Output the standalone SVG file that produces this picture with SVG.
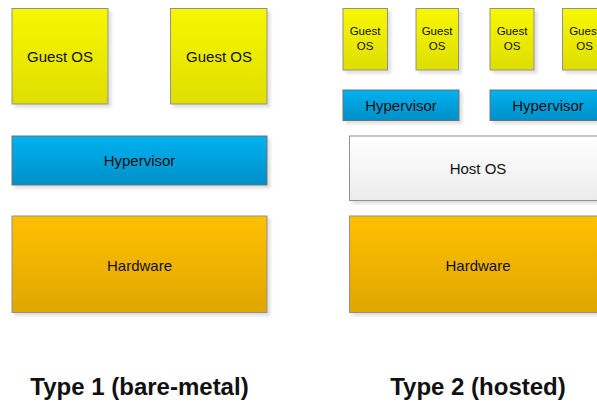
<svg xmlns="http://www.w3.org/2000/svg" width="597" height="403" viewBox="0 0 597 403">
  <defs>
    <linearGradient id="gYellow" x1="0" y1="0" x2="0" y2="1">
      <stop offset="0" stop-color="#f7f700"/>
      <stop offset="1" stop-color="#dede00"/>
    </linearGradient>
    <linearGradient id="gBlue" x1="0" y1="0" x2="0" y2="1">
      <stop offset="0" stop-color="#00b2f0"/>
      <stop offset="1" stop-color="#008fc7"/>
    </linearGradient>
    <linearGradient id="gOrange" x1="0" y1="0" x2="0" y2="1">
      <stop offset="0" stop-color="#ffc000"/>
      <stop offset="1" stop-color="#dea600"/>
    </linearGradient>
    <linearGradient id="gWhite" x1="0" y1="0" x2="0" y2="1">
      <stop offset="0" stop-color="#ffffff"/>
      <stop offset="1" stop-color="#ebebeb"/>
    </linearGradient>
    <filter id="shadow" x="-10%" y="-10%" width="130%" height="130%">
      <feDropShadow dx="3" dy="3" stdDeviation="1.5" flood-color="#000" flood-opacity="0.12"/>
    </filter>
  </defs>
  <style>
    .box { stroke: #909090; stroke-width: 1; filter: url(#shadow); }
    .guest { fill: url(#gYellow); }
    .hyp { fill: url(#gBlue); stroke: #707070; }
    .hw { fill: url(#gOrange); }
    .host { fill: url(#gWhite); }
    .lbl { font-family: "Liberation Sans", Arial, sans-serif; font-size: 15px; fill: #111; text-anchor: middle; dominant-baseline: central; }
    .small { font-size: 11.5px; }
    .title { font-family: "Liberation Sans", Arial, sans-serif; font-size: 24px; font-weight: bold; fill: #111; text-anchor: middle; }
  </style>

  <rect width="597" height="403" fill="#ffffff"/>

  <!-- Type 1: bare-metal stack -->
  <g id="t1-guest1">
    <rect class="box guest" x="12" y="8.5" width="96" height="95.5"/>
    <text class="lbl" x="60" y="56.5">Guest OS</text>
  </g>
  <g id="t1-guest2">
    <rect class="box guest" x="170.5" y="8.5" width="96.5" height="95.5"/>
    <text class="lbl" x="219" y="56.5">Guest OS</text>
  </g>
  <g id="t1-hypervisor">
    <rect class="box hyp" x="12" y="136" width="255" height="49"/>
    <text class="lbl" x="139.5" y="160.5">Hypervisor</text>
  </g>
  <g id="t1-hardware">
    <rect class="box hw" x="12" y="216" width="255" height="96.5"/>
    <text class="lbl" x="139.5" y="265">Hardware</text>
  </g>
  <text class="title" x="139.5" y="395">Type 1 (bare-metal)</text>

  <!-- Type 2: hosted stack -->
  <g id="t2-guest1">
    <rect class="box guest" x="343" y="8.5" width="44.5" height="61.5"/>
    <text class="lbl small" x="365" y="30.5">Guest</text>
    <text class="lbl small" x="365" y="45.5">OS</text>
  </g>
  <g id="t2-guest2">
    <rect class="box guest" x="416" y="8.5" width="42.5" height="61.5"/>
    <text class="lbl small" x="437" y="30.5">Guest</text>
    <text class="lbl small" x="437" y="45.5">OS</text>
  </g>
  <g id="t2-guest3">
    <rect class="box guest" x="490" y="8.5" width="44" height="61.5"/>
    <text class="lbl small" x="512" y="30.5">Guest</text>
    <text class="lbl small" x="512" y="45.5">OS</text>
  </g>
  <g id="t2-guest4">
    <rect class="box guest" x="562.5" y="8.5" width="44" height="61.5"/>
    <text class="lbl small" x="584.5" y="30.5">Guest</text>
    <text class="lbl small" x="584.5" y="45.5">OS</text>
  </g>
  <g id="t2-hypervisor1">
    <rect class="box hyp" x="343" y="90" width="116" height="30.5"/>
    <text class="lbl" x="401" y="105">Hypervisor</text>
  </g>
  <g id="t2-hypervisor2">
    <rect class="box hyp" x="490" y="90" width="116.5" height="30.5"/>
    <text class="lbl" x="548" y="105">Hypervisor</text>
  </g>
  <g id="t2-hostos">
    <rect class="box host" x="349.5" y="136" width="257" height="64.5"/>
    <text class="lbl" x="478" y="168.5">Host OS</text>
  </g>
  <g id="t2-hardware">
    <rect class="box hw" x="349.5" y="216" width="257" height="96.5"/>
    <text class="lbl" x="478" y="265">Hardware</text>
  </g>
  <text class="title" x="478" y="395">Type 2 (hosted)</text>

  <g id="connectors"/>
</svg>
